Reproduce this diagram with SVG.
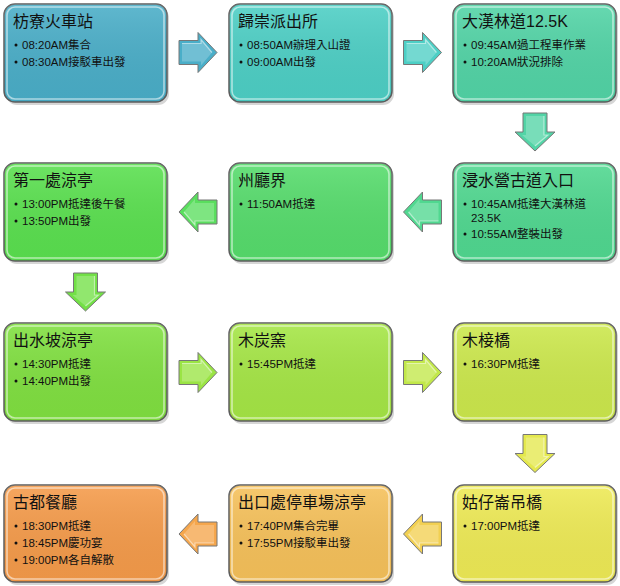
<svg xmlns="http://www.w3.org/2000/svg" width="620" height="586" viewBox="0 0 620 586">
<style>
.box{stroke:#5e5e5e;stroke-width:1.5}
.shade{fill:#8a8a8a;opacity:.35}
.gloss{fill:none;stroke:#ffffff;stroke-opacity:.55;stroke-width:1.6}
.t{font-family:"Liberation Sans","Noto Sans CJK TC",sans-serif;font-size:16px;fill:#111}
.b{font-family:"Liberation Sans","Noto Sans CJK TC",sans-serif;font-size:11.5px;fill:#111}
.dot{fill:#111}
.arr{stroke:#777;stroke-width:1}
</style>
<defs>
<g id="rarrow">
<path class="arr" d="M-19,-12 L0,-12 L0,-20 L19,0 L0,20 L0,12 L-19,12 Z"/>
<path d="M-16,-9 L3,-9 L3,-13 L14,0 L3,13 L3,9 L-16,9 Z" fill="#ffffff" fill-opacity=".22"/>
<path d="M-16,-9 L3,-9 L3,-13 L14,0" fill="none" stroke="#ffffff" stroke-opacity=".5" stroke-width="1.2"/>
</g>
<linearGradient id="sheen" x1="0" y1="0" x2="0" y2="1">
<stop offset="0" stop-color="#ffffff" stop-opacity=".12"/>
<stop offset="1" stop-color="#000000" stop-opacity=".04"/>
</linearGradient>
</defs>

<g id="connectors">
<use href="#rarrow" transform="translate(198,52.5)" fill="#4aaec8"/>
<use href="#rarrow" transform="translate(422.5,52.5)" fill="#4dcfc5"/>
<use href="#rarrow" transform="translate(535,132) rotate(90)" fill="#52d4a6"/>
<use href="#rarrow" transform="translate(422.5,212) rotate(180)" fill="#50d890"/>
<use href="#rarrow" transform="translate(198,212) rotate(180)" fill="#5ade5e"/>
<use href="#rarrow" transform="translate(85.5,292) rotate(90)" fill="#72e046"/>
<use href="#rarrow" transform="translate(198,372.5) rotate(0)" fill="#9ae444"/>
<use href="#rarrow" transform="translate(422.5,372.5)" fill="#c2e84a"/>
<use href="#rarrow" transform="translate(535,453.5) rotate(90)" fill="#e4e84e"/>
<use href="#rarrow" transform="translate(422.5,534) rotate(180)" fill="#f2d052"/>
<use href="#rarrow" transform="translate(198,534) rotate(180)" fill="#f5a64c"/>
</g>

<g id="n1">
<rect class="shade" x="6" y="7" width="163" height="98" rx="11"/>
<rect class="box" x="4" y="4" width="163" height="98" rx="11" fill="#4aaec8"/>
<rect x="4" y="4" width="163" height="98" rx="11" fill="url(#sheen)"/>
<rect class="gloss" x="7" y="7" width="157" height="92" rx="8"/>
<text class="t" x="13" y="27">枋寮火車站</text>
<circle class="dot" cx="16" cy="45" r="1.5"/><text class="b" x="22" y="49">08:20AM集合</text>
<circle class="dot" cx="16" cy="62" r="1.5"/><text class="b" x="22" y="66">08:30AM接駁車出發</text>
</g>

<g id="n2">
<rect class="shade" x="231" y="7" width="163" height="98" rx="11"/>
<rect class="box" x="229" y="4" width="163" height="98" rx="11" fill="#4dcfc5"/>
<rect x="229" y="4" width="163" height="98" rx="11" fill="url(#sheen)"/>
<rect class="gloss" x="232" y="7" width="157" height="92" rx="8"/>
<text class="t" x="238" y="27">歸崇派出所</text>
<circle class="dot" cx="241" cy="45" r="1.5"/><text class="b" x="247" y="49">08:50AM辦理入山證</text>
<circle class="dot" cx="241" cy="62" r="1.5"/><text class="b" x="247" y="66">09:00AM出發</text>
</g>

<g id="n3">
<rect class="shade" x="455" y="7" width="163" height="98" rx="11"/>
<rect class="box" x="453" y="4" width="163" height="98" rx="11" fill="#52d4a6"/>
<rect x="453" y="4" width="163" height="98" rx="11" fill="url(#sheen)"/>
<rect class="gloss" x="456" y="7" width="157" height="92" rx="8"/>
<text class="t" x="462" y="27">大漢林道12.5K</text>
<circle class="dot" cx="465" cy="45" r="1.5"/><text class="b" x="471" y="49">09:45AM過工程車作業</text>
<circle class="dot" cx="465" cy="62" r="1.5"/><text class="b" x="471" y="66">10:20AM狀況排除</text>
</g>

<g id="n4">
<rect class="shade" x="455" y="166" width="163" height="98" rx="11"/>
<rect class="box" x="453" y="163" width="163" height="98" rx="11" fill="#50d890"/>
<rect x="453" y="163" width="163" height="98" rx="11" fill="url(#sheen)"/>
<rect class="gloss" x="456" y="166" width="157" height="92" rx="8"/>
<text class="t" x="462" y="186">浸水營古道入口</text>
<circle class="dot" cx="465" cy="204" r="1.5"/><text class="b" x="471" y="208">10:45AM抵達大漢林道</text>
<text class="b" x="471" y="222">23.5K</text>
<circle class="dot" cx="465" cy="234" r="1.5"/><text class="b" x="471" y="238">10:55AM整裝出發</text>
</g>

<g id="n5">
<rect class="shade" x="231" y="166" width="163" height="98" rx="11"/>
<rect class="box" x="229" y="163" width="163" height="98" rx="11" fill="#56dc6c"/>
<rect x="229" y="163" width="163" height="98" rx="11" fill="url(#sheen)"/>
<rect class="gloss" x="232" y="166" width="157" height="92" rx="8"/>
<text class="t" x="238" y="186">州廳界</text>
<circle class="dot" cx="241" cy="204" r="1.5"/><text class="b" x="247" y="208">11:50AM抵達</text>
</g>

<g id="n6">
<rect class="shade" x="6" y="166" width="163" height="98" rx="11"/>
<rect class="box" x="4" y="163" width="163" height="98" rx="11" fill="#5ae04f"/>
<rect x="4" y="163" width="163" height="98" rx="11" fill="url(#sheen)"/>
<rect class="gloss" x="7" y="166" width="157" height="92" rx="8"/>
<text class="t" x="13" y="186">第一處涼亭</text>
<circle class="dot" cx="16" cy="204" r="1.5"/><text class="b" x="22" y="208">13:00PM抵達後午餐</text>
<circle class="dot" cx="16" cy="221" r="1.5"/><text class="b" x="22" y="225">13:50PM出發</text>
</g>

<g id="n7">
<rect class="shade" x="6" y="326" width="163" height="98" rx="11"/>
<rect class="box" x="4" y="323" width="163" height="98" rx="11" fill="#80e040"/>
<rect x="4" y="323" width="163" height="98" rx="11" fill="url(#sheen)"/>
<rect class="gloss" x="7" y="326" width="157" height="92" rx="8"/>
<text class="t" x="13" y="346">出水坡涼亭</text>
<circle class="dot" cx="16" cy="364" r="1.5"/><text class="b" x="22" y="368">14:30PM抵達</text>
<circle class="dot" cx="16" cy="381" r="1.5"/><text class="b" x="22" y="385">14:40PM出發</text>
</g>

<g id="n8">
<rect class="shade" x="231" y="326" width="163" height="98" rx="11"/>
<rect class="box" x="229" y="323" width="163" height="98" rx="11" fill="#a5e645"/>
<rect x="229" y="323" width="163" height="98" rx="11" fill="url(#sheen)"/>
<rect class="gloss" x="232" y="326" width="157" height="92" rx="8"/>
<text class="t" x="238" y="346">木炭窯</text>
<circle class="dot" cx="241" cy="364" r="1.5"/><text class="b" x="247" y="368">15:45PM抵達</text>
</g>

<g id="n9">
<rect class="shade" x="455" y="326" width="163" height="98" rx="11"/>
<rect class="box" x="453" y="323" width="163" height="98" rx="11" fill="#cce84c"/>
<rect x="453" y="323" width="163" height="98" rx="11" fill="url(#sheen)"/>
<rect class="gloss" x="456" y="326" width="157" height="92" rx="8"/>
<text class="t" x="462" y="346">木椄橋</text>
<circle class="dot" cx="465" cy="364" r="1.5"/><text class="b" x="471" y="368">16:30PM抵達</text>
</g>

<g id="n10">
<rect class="shade" x="455" y="488" width="163" height="97" rx="11"/>
<rect class="box" x="453" y="485" width="163" height="97" rx="11" fill="#eeea55"/>
<rect x="453" y="485" width="163" height="97" rx="11" fill="url(#sheen)"/>
<rect class="gloss" x="456" y="488" width="157" height="91" rx="8"/>
<text class="t" x="462" y="508">姑仔崙吊橋</text>
<circle class="dot" cx="465" cy="526" r="1.5"/><text class="b" x="471" y="530">17:00PM抵達</text>
</g>

<g id="n11">
<rect class="shade" x="231" y="488" width="163" height="97" rx="11"/>
<rect class="box" x="229" y="485" width="163" height="97" rx="11" fill="#f6c15a"/>
<rect x="229" y="485" width="163" height="97" rx="11" fill="url(#sheen)"/>
<rect class="gloss" x="232" y="488" width="157" height="91" rx="8"/>
<text class="t" x="238" y="508">出口處停車場涼亭</text>
<circle class="dot" cx="241" cy="526" r="1.5"/><text class="b" x="247" y="530">17:40PM集合完畢</text>
<circle class="dot" cx="241" cy="543" r="1.5"/><text class="b" x="247" y="547">17:55PM接駁車出發</text>
</g>

<g id="n12">
<rect class="shade" x="6" y="488" width="163" height="97" rx="11"/>
<rect class="box" x="4" y="485" width="163" height="97" rx="11" fill="#f59b4a"/>
<rect x="4" y="485" width="163" height="97" rx="11" fill="url(#sheen)"/>
<rect class="gloss" x="7" y="488" width="157" height="91" rx="8"/>
<text class="t" x="13" y="508">古都餐廳</text>
<circle class="dot" cx="16" cy="526" r="1.5"/><text class="b" x="22" y="530">18:30PM抵達</text>
<circle class="dot" cx="16" cy="543" r="1.5"/><text class="b" x="22" y="547">18:45PM慶功宴</text>
<circle class="dot" cx="16" cy="560" r="1.5"/><text class="b" x="22" y="564">19:00PM各自解散</text>
</g>
</svg>
